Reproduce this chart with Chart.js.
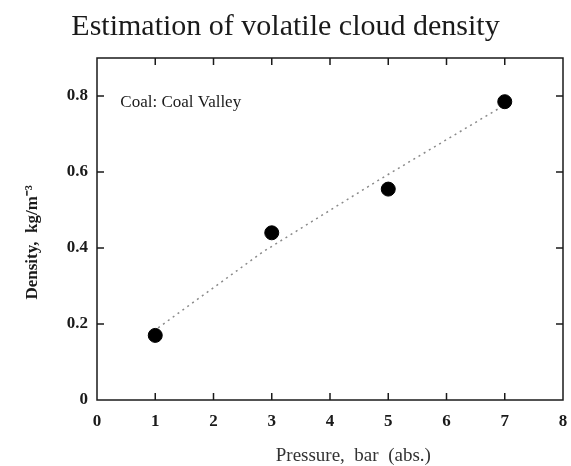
<!DOCTYPE html>
<html>
<head>
<meta charset="utf-8">
<script src="https://cdn.jsdelivr.net/npm/chart.js@4/dist/chart.umd.min.js"></script>
<style>
  html, body { margin: 0; padding: 0; background: #fff; }
  #wrap { width: 571px; height: 466px; }
</style>
</head>
<body>
<div id="wrap"><canvas id="chart"></canvas></div>
<script>
// measured points
const pressure = [1, 3, 5, 7]
const density = [0.17, 0.44, 0.555, 0.785]

// dotted trend line, read along its length
const trendPressure = [1.05, 2.85, 4.85, 6.93]
const trendDensity = [0.19, 0.39, 0.58, 0.77]

const xTicks = [0, 1, 2, 3, 4, 5, 6, 7, 8]
const yTicks = [0, 0.2, 0.4, 0.6, 0.8]

const note = { x: 0.4, y: 0.77, text: 'Coal: Coal Valley' }
const xTitle = 'Pressure,  bar  (abs.)'
const yTitle = 'Density,  kg/m⁻³'

const serif = '"Liberation Serif", "Times New Roman", serif'
const ink = '#1a1a1a'

const framePlugin = {
    id: 'frame',
    beforeDatasetsDraw(chart) {
        const { ctx, chartArea: a, scales: { x, y } } = chart
        const len = 7
        ctx.save()
        ctx.strokeStyle = ink
        ctx.lineWidth = 1.5
        ctx.strokeRect(a.left, a.top, a.right - a.left, a.bottom - a.top)
        ctx.beginPath()
        xTicks.slice(1, -1).forEach(v => {
            const px = x.getPixelForValue(v)
            ctx.moveTo(px, a.bottom); ctx.lineTo(px, a.bottom - len)
            ctx.moveTo(px, a.top); ctx.lineTo(px, a.top + len)
        })
        yTicks.slice(1).forEach(v => {
            const py = y.getPixelForValue(v)
            ctx.moveTo(a.left, py); ctx.lineTo(a.left + len, py)
            ctx.moveTo(a.right, py); ctx.lineTo(a.right - len, py)
        })
        ctx.stroke()

        ctx.fillStyle = ink
        ctx.font = '17px ' + serif
        ctx.textBaseline = 'alphabetic'
        ctx.fillText(note.text, x.getPixelForValue(note.x), y.getPixelForValue(note.y))

        // axis titles, placed where the scan has them
        ctx.textAlign = 'center'
        ctx.textBaseline = 'middle'
        ctx.fillStyle = '#333'
        ctx.font = '19px ' + serif
        ctx.fillText(xTitle, x.getPixelForValue(4.4), 456)

        ctx.fillStyle = ink
        ctx.font = 'bold 17px ' + serif
        ctx.translate(33, y.getPixelForValue(0.415))
        ctx.rotate(-Math.PI / 2)
        ctx.fillText(yTitle, 0, 0)
        ctx.restore()
    }
}

new Chart(document.getElementById('chart'), {
    type: 'scatter',
    data: {
        datasets: [{
            data: trendPressure.map((p, i) => ({ x: p, y: trendDensity[i] })),
            showLine: true,
            borderColor: '#8a8a8a',
            borderWidth: 1.5,
            borderDash: [2, 4],
            pointRadius: 0,
            order: 2
        }, {
            data: pressure.map((p, i) => ({ x: p, y: density[i] })),
            backgroundColor: '#000',
            borderColor: '#000',
            pointRadius: 7,
            order: 1
        }]
    },
    options: {
        responsive: true,
        maintainAspectRatio: false,
        animation: false,
        layout: { padding: 0 },
        plugins: {
            legend: { display: false },
            tooltip: { enabled: false },
            title: {
                display: true,
                text: 'Estimation of volatile cloud density',
                color: ink,
                font: { family: serif, size: 30, weight: 'normal' },
                padding: { top: 9, bottom: 13 }
            }
        },
        scales: {
            x: {
                type: 'linear',
                min: 0,
                max: 8,
                afterFit: s => { s.height = 66; s.paddingLeft = 0; s.paddingRight = 5 },
                afterBuildTicks: s => { s.ticks = xTicks.map(v => ({ value: v })) },
                grid: { display: false, drawTicks: false },
                border: { display: false },
                ticks: {
                    padding: 11,
                    color: ink,
                    font: { family: serif, size: 17, weight: 'bold' }
                }
            },
            y: {
                type: 'linear',
                min: 0,
                max: 0.9,
                afterFit: s => { s.width = 97 },
                afterBuildTicks: s => { s.ticks = yTicks.map(v => ({ value: v })) },
                grid: { display: false, drawTicks: false },
                border: { display: false },
                ticks: {
                    padding: 9,
                    color: ink,
                    font: { family: serif, size: 17, weight: 'bold' },
                    callback: v => v === 0 ? '0' : v.toFixed(1)
                }
            }
        }
    },
    plugins: [framePlugin]
})
</script>
</body>
</html>
